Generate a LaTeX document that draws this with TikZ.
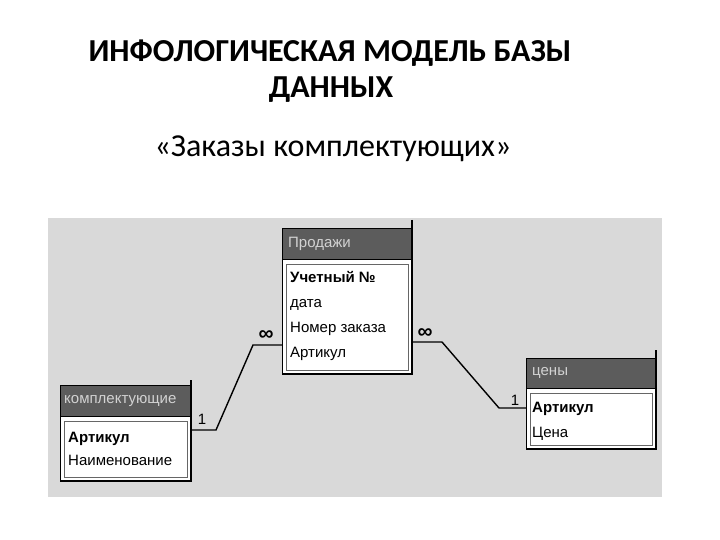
\documentclass[tikz,border=0pt]{standalone}
\usepackage{fontspec}
\setmainfont{Liberation Sans}
\newfontfamily\titlefont{Carlito}
\definecolor{scan}{HTML}{D9D9D9}
\definecolor{hdrgray}{HTML}{5C5C5C}
\definecolor{hdrtext}{HTML}{D2D2D2}
\begin{document}
\begin{tikzpicture}[x=1pt,y=-1pt,
  tbl/.style={draw=black, line width=0.7pt, fill=white, anchor=north west, inner sep=0pt},
  hdr/.style={draw=black, line width=0.7pt, fill=hdrgray, anchor=north west, inner sep=0pt},
  hdrtxt/.style={anchor=west, inner sep=0pt, text=hdrtext, font=\fontsize{15}{17}\selectfont},
  fld/.style={anchor=base west, inner sep=0pt, font=\fontsize{15}{17}\selectfont},
  key/.style={anchor=base west, inner sep=0pt, font=\bfseries\fontsize{15}{17}\selectfont},
  inner/.style={line width=0.4pt, draw=black!60},
  shadow/.style={line width=2.2pt},
  rel/.style={line width=1.4pt},
  card/.style={font=\fontsize{15}{17}\selectfont, inner sep=0pt},
  many/.style={font=\bfseries\fontsize{21}{23}\selectfont, inner sep=0pt},
  ttl/.style={anchor=base, inner sep=0pt, font=\titlefont\bfseries\fontsize{32}{34}\selectfont},
  sub/.style={anchor=base, inner sep=0pt, font=\titlefont\fontsize{32}{34}\selectfont}]

\useasboundingbox (0,0) rectangle (720,540);
\fill[white] (0,0) rectangle (720,540);
\fill[scan] (48,218) rectangle (662,497);

% titles
\node[ttl] (t1) at (330,62) {ИНФОЛОГИЧЕСКАЯ МОДЕЛЬ БАЗЫ};
\node[ttl] (t2) at (331,98) {ДАННЫХ};
\node[sub] (t3) at (333,157) {«Заказы комплектующих»};

% table Продажи
\node[tbl, minimum width=129pt, minimum height=145pt] (prod) at (282,228) {};
\node[hdr, minimum width=129pt, minimum height=31pt] (prodh) at (282,228) {};
\node[hdrtxt] (prodt) at ([xshift=6pt]prodh.west) {Продажи};
\draw[inner] ([shift={(4,4)}]prodh.south west) rectangle ([shift={(-4,-4)}]prod.south east);
\draw[shadow] (prod.east |- 0,220) -- (prod.south east) -- (prod.south west);
\node[key] (p1) at (290,282) {Учетный №};
\node[fld] (p2) at (290,307) {дата};
\node[fld] (p3) at (290,332) {Номер заказа};
\node[fld] (p4) at (290,357) {Артикул};

% table комплектующие
\node[tbl, minimum width=130pt, minimum height=95pt] (komp) at (60,385) {};
\node[hdr, minimum width=130pt, minimum height=31pt] (komph) at (60,385) {};
\node[hdrtxt] (kompt) at ([xshift=4pt]komph.west) {комплектующие};
\draw[inner] ([shift={(4,4)}]komph.south west) rectangle ([shift={(-4,-4)}]komp.south east);
\draw[shadow] (komp.east |- 0,380) -- (komp.south east) -- (komp.south west);
\node[key] (k1) at (68,442) {Артикул};
\node[fld] (k2) at (68,465) {Наименование};

% table цены
\node[tbl, minimum width=129pt, minimum height=90pt] (cen) at (526,358) {};
\node[hdr, minimum width=129pt, minimum height=30pt] (cenh) at (526,358) {};
\node[hdrtxt] (cent) at ([xshift=6pt]cenh.west) {цены};
\draw[inner] ([shift={(4,4)}]cenh.south west) rectangle ([shift={(-4,-4)}]cen.south east);
\draw[shadow] (cen.east |- 0,350) -- (cen.south east) -- (cen.south west);
\node[key] (c1) at (532,412) {Артикул};
\node[fld] (c2) at (532,437) {Цена};

% relations
\draw[rel] (prod.west |- 0,345) -- (253,345) -- (216,430) -- (komp.east |- 0,430);
\draw[rel] (prod.east |- 0,342) -- (442,342) -- (499,408) -- (cen.west |- 0,408);
\node[many] (m1) at (266,336) {∞};
\node[many] (m2) at (425,334) {∞};
\node[card] (o1) at (202,419) {1};
\node[card] (o2) at (515,400) {1};
\end{tikzpicture}
\end{document}
